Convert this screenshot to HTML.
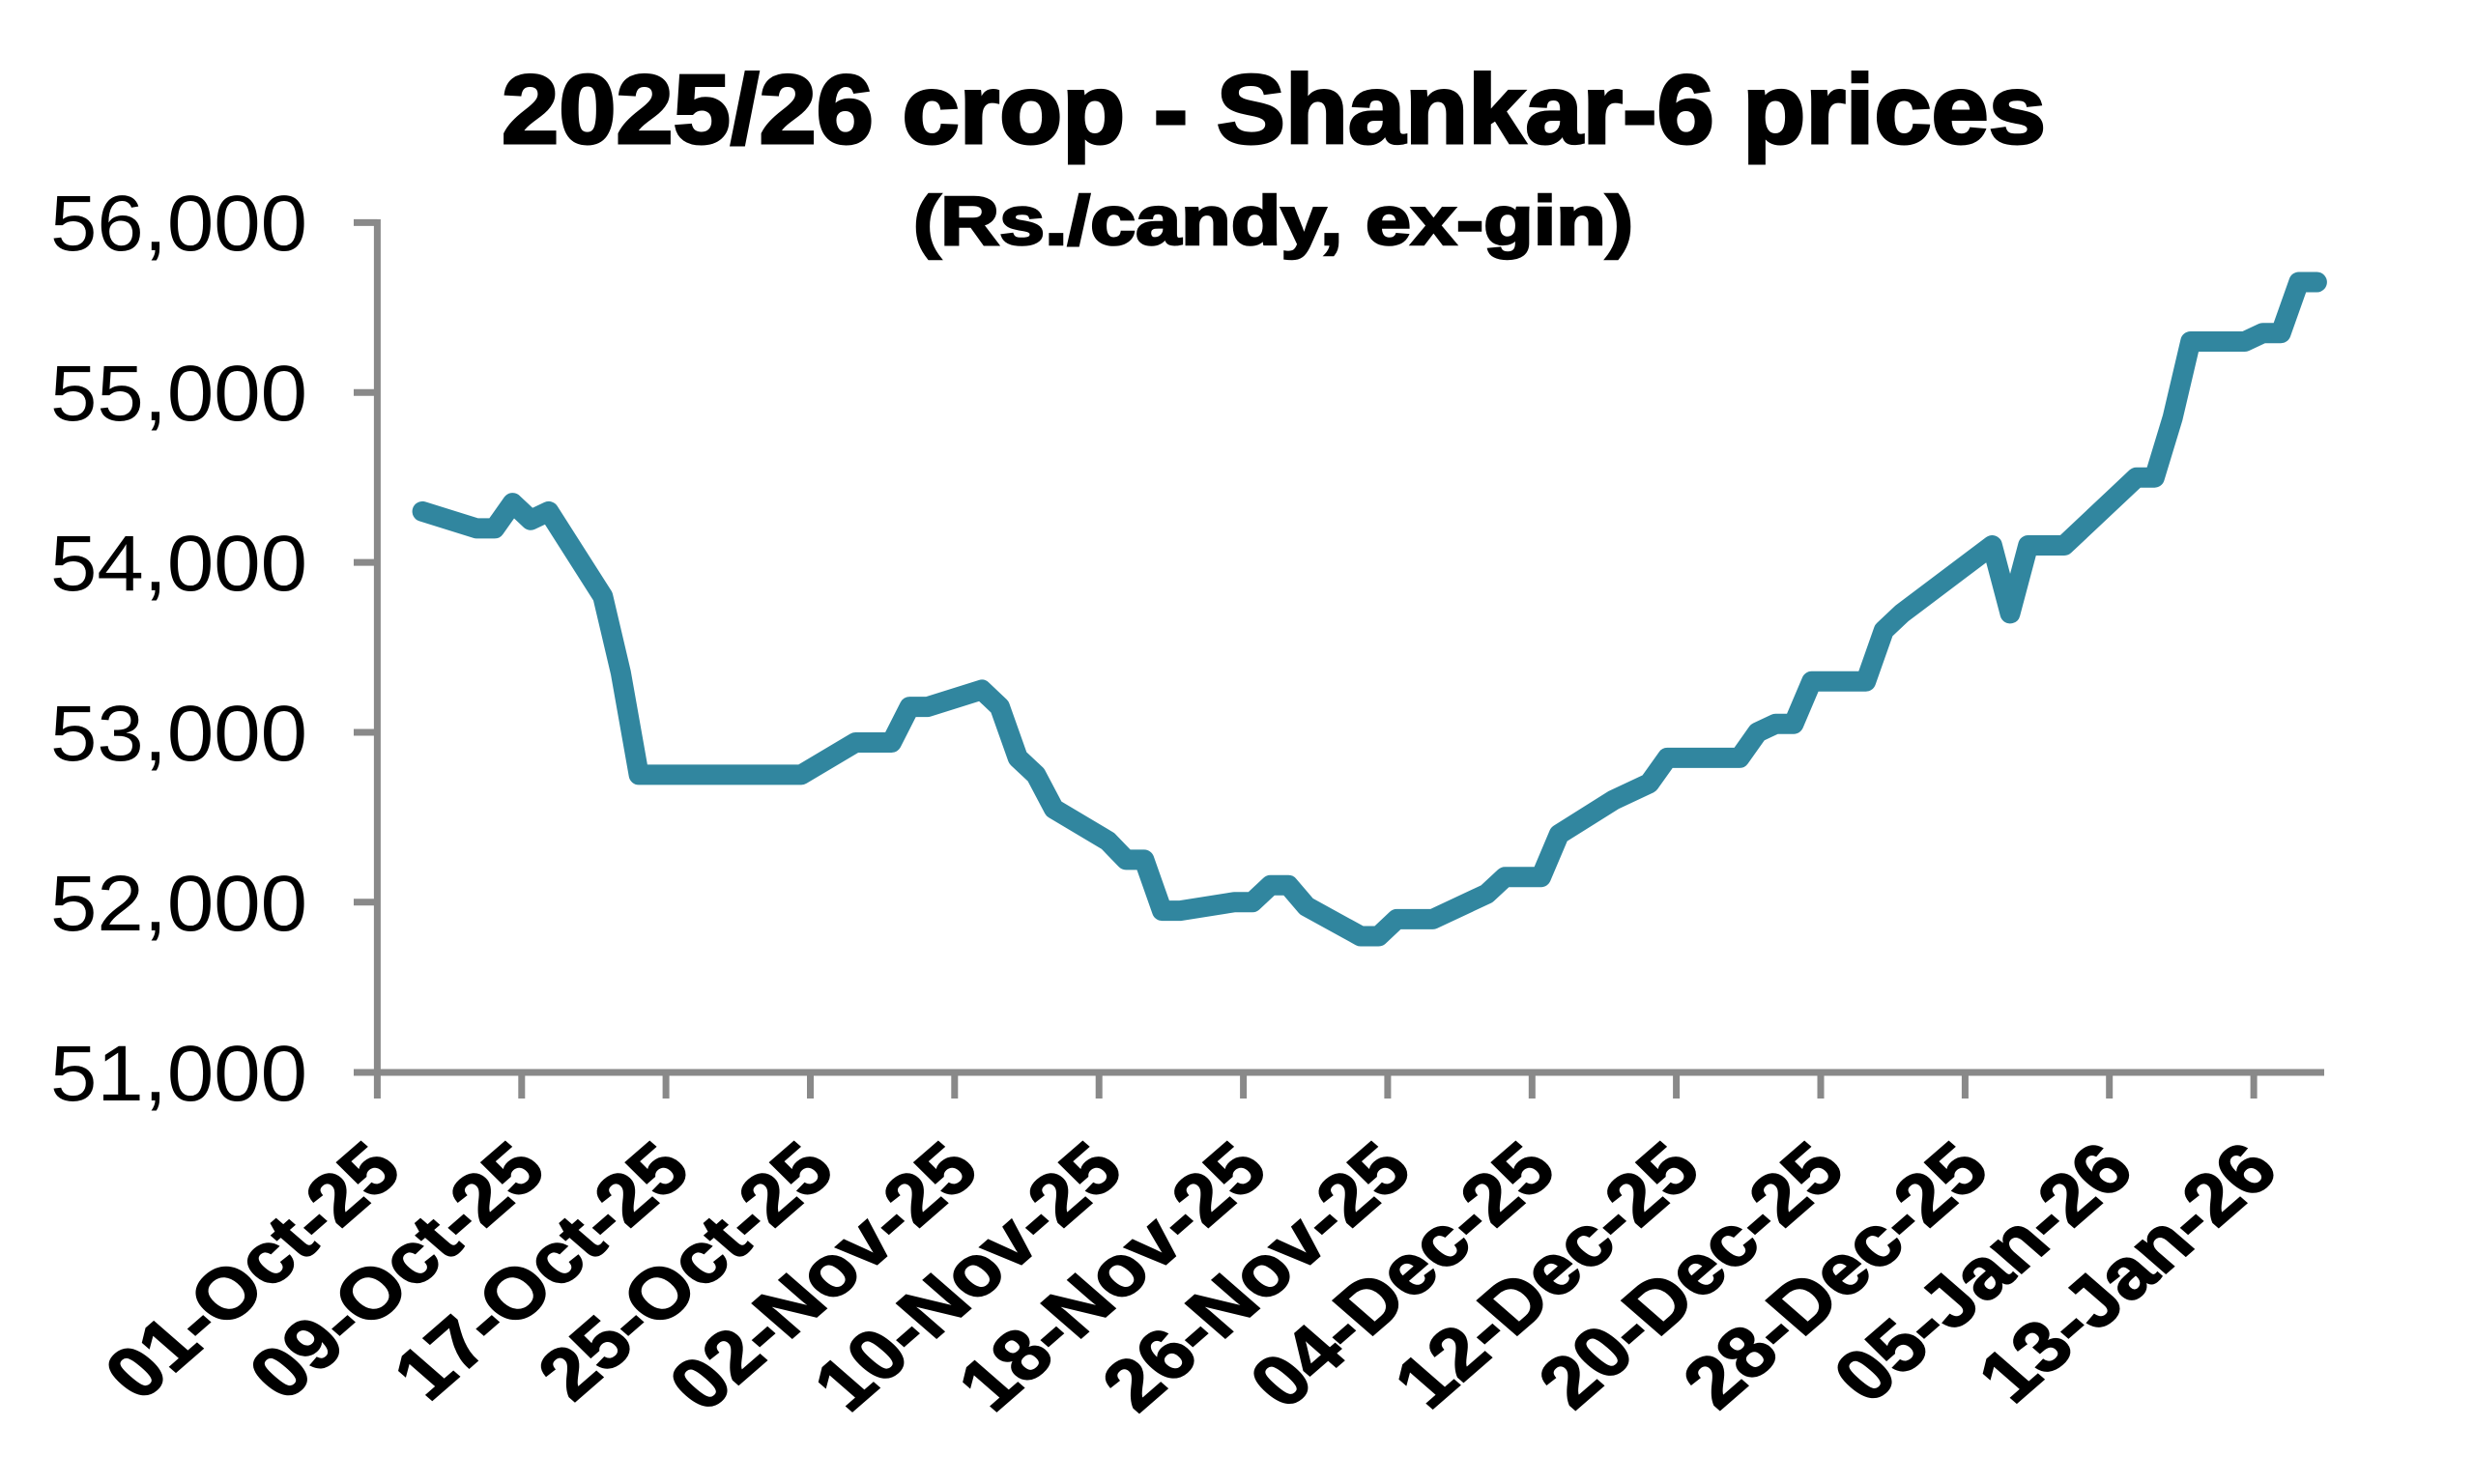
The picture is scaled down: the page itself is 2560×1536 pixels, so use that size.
<!DOCTYPE html>
<html>
<head>
<meta charset="utf-8">
<style>
  html, body { margin: 0; padding: 0; background: #ffffff; }
  svg { display: block; }
</style>
</head>
<body>
<svg width="2560" height="1536" viewBox="0 0 2560 1536" xmlns="http://www.w3.org/2000/svg">
  <rect x="0" y="0" width="2560" height="1536" fill="#ffffff"/>

  <!-- Title -->
  <text x="519" y="148" font-family="Liberation Sans, Arial, sans-serif" font-weight="bold" font-size="101" fill="#000" stroke="#000" stroke-width="3" textLength="1598" lengthAdjust="spacingAndGlyphs">2025/26 crop - Shankar-6 prices</text>
  <text x="945" y="253" font-family="Liberation Sans, Arial, sans-serif" font-weight="bold" font-size="71" fill="#000" stroke="#000" stroke-width="2.5" textLength="745" lengthAdjust="spacingAndGlyphs">(Rs./candy, ex-gin)</text>

  <!-- Axes -->
  <g stroke="#898989" stroke-width="7" fill="none">
    <line x1="390.4" y1="227" x2="390.4" y2="1137"/>
    <line x1="366" y1="1110" x2="2405" y2="1110"/>
    <!-- y ticks -->
    <line x1="366" y1="230.4" x2="390.4" y2="230.4"/>
    <line x1="366" y1="406.3" x2="390.4" y2="406.3"/>
    <line x1="366" y1="582.1" x2="390.4" y2="582.1"/>
    <line x1="366" y1="758.0" x2="390.4" y2="758.0"/>
    <line x1="366" y1="933.8" x2="390.4" y2="933.8"/>
    <!-- x ticks -->
    <line x1="539.8" y1="1110" x2="539.8" y2="1137"/>
    <line x1="689.1" y1="1110" x2="689.1" y2="1137"/>
    <line x1="838.5" y1="1110" x2="838.5" y2="1137"/>
    <line x1="987.8" y1="1110" x2="987.8" y2="1137"/>
    <line x1="1137.2" y1="1110" x2="1137.2" y2="1137"/>
    <line x1="1286.6" y1="1110" x2="1286.6" y2="1137"/>
    <line x1="1435.9" y1="1110" x2="1435.9" y2="1137"/>
    <line x1="1585.3" y1="1110" x2="1585.3" y2="1137"/>
    <line x1="1734.6" y1="1110" x2="1734.6" y2="1137"/>
    <line x1="1884.0" y1="1110" x2="1884.0" y2="1137"/>
    <line x1="2033.4" y1="1110" x2="2033.4" y2="1137"/>
    <line x1="2182.7" y1="1110" x2="2182.7" y2="1137"/>
    <line x1="2332.1" y1="1110" x2="2332.1" y2="1137"/>
  </g>

  <!-- Y labels -->
  <g font-family="Liberation Sans, Arial, sans-serif" font-size="82" fill="#000" text-anchor="end">
    <text x="318" y="259" textLength="266" lengthAdjust="spacingAndGlyphs">56,000</text>
    <text x="318" y="435" textLength="266" lengthAdjust="spacingAndGlyphs">55,000</text>
    <text x="318" y="611" textLength="266" lengthAdjust="spacingAndGlyphs">54,000</text>
    <text x="318" y="787" textLength="266" lengthAdjust="spacingAndGlyphs">53,000</text>
    <text x="318" y="963" textLength="266" lengthAdjust="spacingAndGlyphs">52,000</text>
    <text x="318" y="1139" textLength="266" lengthAdjust="spacingAndGlyphs">51,000</text>
  </g>

  <!-- X labels -->
  <g font-family="Liberation Sans, Arial, sans-serif" font-weight="bold" font-size="74" fill="#000" stroke="#000" stroke-width="1.5" text-anchor="end">
    <text transform="translate(419.0,1214) scale(1.15,1) rotate(-45)">01-Oct-25</text>
    <text transform="translate(568.4,1214) scale(1.15,1) rotate(-45)">09-Oct-25</text>
    <text transform="translate(717.7,1214) scale(1.15,1) rotate(-45)">17-Oct-25</text>
    <text transform="translate(867.1,1214) scale(1.15,1) rotate(-45)">25-Oct-25</text>
    <text transform="translate(1016.4,1214) scale(1.15,1) rotate(-45)">02-Nov-25</text>
    <text transform="translate(1165.8,1214) scale(1.15,1) rotate(-45)">10-Nov-25</text>
    <text transform="translate(1315.2,1214) scale(1.15,1) rotate(-45)">18-Nov-25</text>
    <text transform="translate(1464.5,1214) scale(1.15,1) rotate(-45)">26-Nov-25</text>
    <text transform="translate(1613.9,1214) scale(1.15,1) rotate(-45)">04-Dec-25</text>
    <text transform="translate(1763.2,1214) scale(1.15,1) rotate(-45)">12-Dec-25</text>
    <text transform="translate(1912.6,1214) scale(1.15,1) rotate(-45)">20-Dec-25</text>
    <text transform="translate(2062.0,1214) scale(1.15,1) rotate(-45)">28-Dec-25</text>
    <text transform="translate(2211.3,1214) scale(1.15,1) rotate(-45)">05-Jan-26</text>
    <text transform="translate(2360.7,1214) scale(1.15,1) rotate(-45)">13-Jan-26</text>
  </g>

  <!-- Series -->
  <polyline fill="none" stroke="#31869F" stroke-width="21" stroke-linejoin="round" stroke-linecap="round"
    points="437.1,529.4 493.1,546.9 511.8,546.9 530.4,520.6 549.1,538.2 567.8,529.4 623.8,617.3 642.4,696.4 661.1,801.9 829.1,801.9 885.2,768.5 922.5,768.5 941.2,731.6 959.8,731.6 1015.9,714.0 1034.5,731.6 1053.2,784.4 1071.9,801.9 1090.5,837.1 1146.5,870.5 1165.2,889.9 1183.9,889.9 1202.5,942.6 1221.2,942.6 1277.2,933.8 1295.9,933.8 1314.6,916.3 1333.2,916.3 1351.9,938.2 1407.9,969.0 1426.6,969.0 1445.3,951.4 1482.6,951.4 1538.6,925.1 1557.3,907.7 1594.6,907.7 1613.3,863.5 1669.3,828.3 1706.6,810.7 1725.3,784.4 1800.0,784.4 1818.7,758.0 1837.3,749.2 1856.0,749.2 1874.7,705.2 1930.7,705.2 1949.3,652.5 1968.0,634.9 2061.4,564.5 2080.0,634.9 2098.7,564.5 2136.0,564.5 2210.7,494.2 2229.4,494.2 2248.1,432.6 2266.7,353.5 2322.8,353.5 2341.4,344.7 2360.1,344.7 2378.8,292.0 2397.4,292.0"/>
</svg>
</body>
</html>
